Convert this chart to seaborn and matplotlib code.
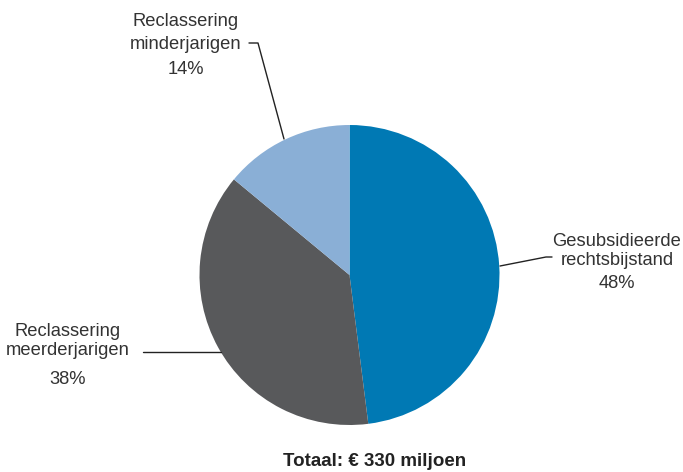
import matplotlib.pyplot as plt
import numpy as np
import seaborn as sns

categories = ["Gesubsidieerde\nrechtsbijstand", "Reclassering\nmeerderjarigen", "Reclassering\nminderjarigen"]
shares = [48, 38, 14]
total_label = "Totaal: € 330 miljoen"

colors = ["#0079b4", "#58595b", "#8aafd6"]

sns.set_theme(style="white")
plt.rcParams["font.family"] = ["Liberation Sans", "DejaVu Sans"]
text_color = "#333333"

W, H = 683, 472
fig = plt.figure(figsize=(W / 100, H / 100), dpi=100)

# pie axes: centre (349, 275) px, radius 150 px
cx, cy, r = 349.5, 275, 150
ax = fig.add_axes([(cx - r) / W, (H - cy - r) / H, 2 * r / W, 2 * r / H])
ax.pie(shares, colors=colors, startangle=90, counterclock=False,
       wedgeprops={"linewidth": 0})
ax.set_xlim(-1, 1)
ax.set_ylim(-1, 1)
ax.set_aspect("equal")
ax.axis("off")

# overlay in pixel coordinates for labels and leader lines
ov = fig.add_axes([0, 0, 1, 1], facecolor="none")
ov.set_xlim(0, W)
ov.set_ylim(H, 0)
ov.axis("off")

fs = 13.2
line_kw = dict(color="#222222", lw=1.0)

# Gesubsidieerde rechtsbijstand
ov.plot([500, 546, 552], [266, 257, 257], **line_kw)
ov.text(617, 251, categories[0], ha="center", va="center", fontsize=fs,
        color=text_color, linespacing=1.2)
ov.text(617, 284, f"{shares[0]}%", ha="center", va="center", fontsize=fs, color=text_color)

# Reclassering meerderjarigen
ov.plot([143, 221], [352, 352], **line_kw)
ov.text(68, 341, categories[1], ha="center", va="center", fontsize=fs,
        color=text_color, linespacing=1.2)
ov.text(68, 380, f"{shares[1]}%", ha="center", va="center", fontsize=fs, color=text_color)

# Reclassering minderjarigen
ov.plot([249, 258, 284], [43, 43, 139], **line_kw)
ov.text(186, 33, categories[2], ha="center", va="center", fontsize=fs,
        color=text_color, linespacing=1.45)
ov.text(186, 70, f"{shares[2]}%", ha="center", va="center", fontsize=fs, color=text_color)

ov.text(375, 462, total_label, ha="center", va="center", fontsize=13.5,
        fontweight="bold", color="#222222")

fig.savefig("out.png", dpi=100)
